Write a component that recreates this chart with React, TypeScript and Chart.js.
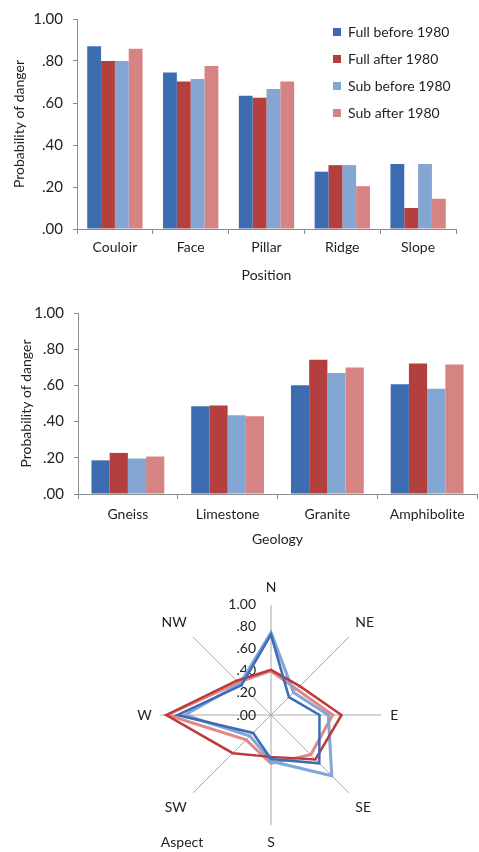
import React, { useEffect, useRef } from 'react';
import { Chart, registerables } from 'chart.js';
Chart.register(...registerables);

const seriesNames = ['Full before 1980', 'Full after 1980', 'Sub before 1980', 'Sub after 1980'];

const positions = ['Couloir', 'Face', 'Pillar', 'Ridge', 'Slope'];
const posFullBefore = [0.87, 0.745, 0.634, 0.273, 0.309];
const posFullAfter = [0.8, 0.702, 0.625, 0.304, 0.1];
const posSubBefore = [0.8, 0.714, 0.667, 0.304, 0.309];
const posSubAfter = [0.858, 0.776, 0.702, 0.204, 0.144];

const geologies = ['Gneiss', 'Limestone', 'Granite', 'Amphibolite'];
const geoFullBefore = [0.186, 0.485, 0.601, 0.607];
const geoFullAfter = [0.227, 0.489, 0.742, 0.721];
const geoSubBefore = [0.196, 0.435, 0.668, 0.581];
const geoSubAfter = [0.207, 0.43, 0.699, 0.716];

const aspects = ['N', 'NE', 'E', 'SE', 'S', 'SW', 'W', 'NW'];
const aspFullBefore = [0.73, 0.23, 0.44, 0.62, 0.4, 0.23, 0.85, 0.38];
const aspFullAfter = [0.41, 0.37, 0.64, 0.57, 0.38, 0.49, 0.95, 0.44];
const aspSubBefore = [0.75, 0.29, 0.52, 0.78, 0.42, 0.27, 0.78, 0.4];
const aspSubAfter = [0.4, 0.33, 0.56, 0.51, 0.44, 0.32, 0.94, 0.42];

const BAR_COLORS = ['#3E6CB1', '#B43F3F', '#84A6D3', '#D68383'];
const LINE_COLORS = ['#3D6BB4', '#BC3A3A', '#82A6D8', '#DE8888'];
const FONT = 'Lato';
const TEXT = '#1f1f1f';
const AXIS = '#8C8C8C';

const fmt = (v: number | string) => {
  const s = Number(v).toFixed(2);
  return s.startsWith('0') ? s.slice(1) : s;
};

const legendMover = {
  id: 'legendMover',
  afterLayout(chart: any) {
    const lg = chart.legend;
    if (!lg || !chart.options.plugins.legend.display) return;
    const L = 320;
    const T = 12;
    const w = lg.width;
    const h = lg.height;
    lg.left = L;
    lg.right = L + w;
    lg.top = T;
    lg.bottom = T + h;
  },
};

function barConfig(
  labels: string[],
  series: number[][],
  xTitle: string,
  opts: { padTop: number; padRight: number; yWidth: number; xHeight: number; yTitlePad: number; xTitlePad: number; xTickPad: number; legend: boolean }
): any {
  return {
    type: 'bar',
    data: {
      labels,
      datasets: series.map((d, i) => ({
        label: seriesNames[i],
        data: d,
        backgroundColor: BAR_COLORS[i],
        borderWidth: 0,
        categoryPercentage: 0.73,
        barPercentage: 1,
      })),
    },
    options: {
      animation: false,
      responsive: false,
      maintainAspectRatio: false,
      layout: { padding: { top: opts.padTop, right: opts.padRight, left: 0, bottom: 0 } },
      plugins: {
        legend: {
          display: opts.legend,
          position: 'chartArea',
          align: 'start',
          labels: {
            boxWidth: 8,
            boxHeight: 8,
            padding: 13,
            font: { family: FONT, size: 14 },
            color: TEXT,
          },
        },
        tooltip: { enabled: false },
      },
      scales: {
        x: {
          grid: { offset: true, drawOnChartArea: false, drawTicks: true, tickLength: 5, color: AXIS },
          border: { display: true, color: AXIS, width: 1 },
          ticks: { font: { family: FONT, size: 14 }, color: TEXT, padding: opts.xTickPad, maxRotation: 0, autoSkip: false },
          title: {
            display: true,
            text: xTitle,
            font: { family: FONT, size: 14 },
            color: TEXT,
            padding: { top: 0, bottom: opts.xTitlePad },
          },
          afterFit: (s: any) => {
            s.height = opts.xHeight;
          },
        },
        y: {
          min: 0,
          max: 1,
          ticks: { stepSize: 0.2, callback: (v: any) => fmt(v), font: { family: FONT, size: 15 }, color: TEXT, padding: 10 },
          grid: { drawOnChartArea: false, drawTicks: true, tickLength: 4, color: AXIS },
          border: { display: true, color: AXIS, width: 1 },
          title: {
            display: true,
            text: 'Probability of danger',
            font: { family: FONT, size: 14 },
            color: TEXT,
            padding: { top: opts.yTitlePad, bottom: 0 },
          },
          afterFit: (s: any) => {
            s.width = opts.yWidth;
          },
        },
      },
    },
    plugins: [legendMover],
  };
}

const radarLabels = {
  id: 'radarLabels',
  beforeDatasetsDraw(chart: any) {
    const s = chart.scales.r;
    const ctx = chart.ctx;
    ctx.save();
    ctx.font = `14px ${FONT}`;
    ctx.fillStyle = TEXT;
    ctx.textAlign = 'right';
    ctx.textBaseline = 'middle';
    s.ticks.forEach((t: any) => {
      const d = s.getDistanceFromCenterForValue(t.value);
      ctx.fillText(fmt(t.value), s.xCenter - 15, s.yCenter - d);
    });
    ctx.textAlign = 'left';
    ctx.fillText('Aspect', s.xCenter - s.drawingArea, s.yCenter + s.drawingArea + 17);
    ctx.restore();
  },
};

function radarConfig(): any {
  const series = [aspFullBefore, aspFullAfter, aspSubBefore, aspSubAfter];
  const widths = [2.5, 2.5, 3, 3];
  return {
    type: 'radar',
    data: {
      labels: aspects,
      datasets: series.map((d, i) => ({
        label: seriesNames[i],
        data: d,
        borderColor: LINE_COLORS[i],
        backgroundColor: 'transparent',
        borderWidth: widths[i],
        fill: false,
        pointRadius: 0,
        tension: 0,
      })),
    },
    options: {
      animation: false,
      responsive: false,
      maintainAspectRatio: false,
      layout: { padding: 0 },
      plugins: { legend: { display: false }, tooltip: { enabled: false } },
      scales: {
        r: {
          min: 0,
          max: 1,
          ticks: { display: false, stepSize: 0.2 },
          grid: { display: false },
          angleLines: { display: true, color: '#A8A8A8', lineWidth: 1 },
          pointLabels: { display: true, font: { family: FONT, size: 14 }, color: TEXT, padding: 9 },
        },
      },
    },
    plugins: [radarLabels],
  };
}

function ChartCanvas({ config, left, top, width, height }: { config: () => any; left: number; top: number; width: number; height: number }) {
  const ref = useRef<HTMLCanvasElement | null>(null);
  useEffect(() => {
    if (!ref.current) return;
    const chart = new Chart(ref.current, config());
    return () => chart.destroy();
  }, []);
  return (
    <canvas
      ref={ref}
      width={width}
      height={height}
      style={{ position: 'absolute', left, top, width, height }}
    />
  );
}

export default function App() {
  return (
    <div style={{ position: 'absolute', left: 0, top: 0, width: 479, height: 852, background: '#fff', overflow: 'hidden' }}>
      <ChartCanvas
        left={0}
        top={0}
        width={479}
        height={290}
        config={() =>
          barConfig(positions, [posFullBefore, posFullAfter, posSubBefore, posSubAfter], 'Position', {
            padTop: 13,
            padRight: 23,
            yWidth: 77,
            xHeight: 61,
            yTitlePad: 11,
            xTitlePad: 6,
            xTickPad: 5,
            legend: true,
          })
        }
      />
      <ChartCanvas
        left={0}
        top={290}
        width={479}
        height={262}
        config={() =>
          barConfig(geologies, [geoFullBefore, geoFullAfter, geoSubBefore, geoSubAfter], 'Geology', {
            padTop: 23,
            padRight: 2,
            yWidth: 78,
            xHeight: 58,
            yTitlePad: 18,
            xTitlePad: 4,
            xTickPad: 7,
            legend: false,
          })
        }
      />
      <ChartCanvas left={132} top={580} width={272} height={272} config={radarConfig} />
    </div>
  );
}
